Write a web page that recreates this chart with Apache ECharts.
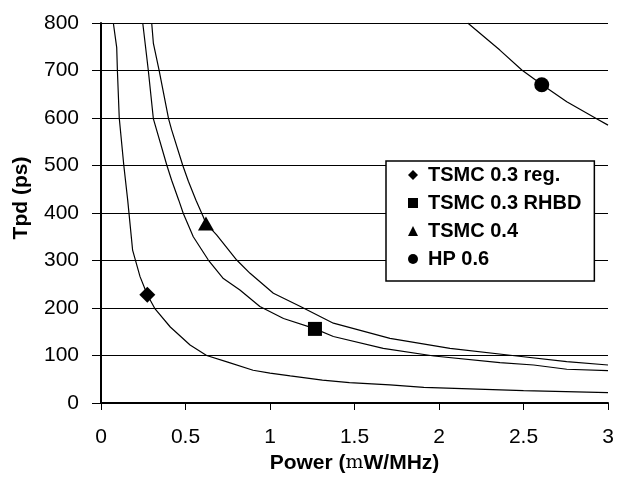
<!DOCTYPE html>
<html lang="en">
<head>
    <meta charset="UTF-8">
    <title>Tpd vs Power</title>
    <script src="https://cdn.jsdelivr.net/npm/echarts@6/dist/echarts.min.js"></script>
    <style>
        body {
            margin: 0;
            background: #fff;
        }
        #main {
            width: 623px;
            height: 481px;
        }
    </style>
</head>
<body>
    <div id="main"></div>
    <script>
        // curves: [power, tpd]
        var tsmc03reg = [[0.073, 800], [0.093, 748], [0.097, 700], [0.108, 600], [0.135, 500], [0.158, 427],
            [0.187, 322], [0.231, 266], [0.274, 228], [0.32, 198], [0.41, 160], [0.527, 122], [0.625, 100],
            [0.75, 86], [0.9, 69], [1.0, 63], [1.12, 57], [1.31, 48], [1.47, 43], [1.71, 38], [1.91, 33],
            [2.5, 26], [3.0, 22]];
        var tsmc03rhbd = [[0.247, 800], [0.28, 700], [0.31, 598], [0.39, 500], [0.418, 469], [0.46, 427],
            [0.487, 399], [0.546, 350], [0.635, 301], [0.724, 262], [0.822, 238], [0.94, 203], [1.08, 178],
            [1.26, 157], [1.375, 140], [1.67, 115], [1.97, 99], [2.36, 85], [2.56, 80], [2.756, 71], [3.0, 68]];
        var tsmc04 = [[0.30, 800], [0.31, 757], [0.343, 702], [0.40, 598], [0.418, 575], [0.483, 501],
            [0.517, 467], [0.562, 427], [0.605, 392], [0.621, 378], [0.684, 354], [0.803, 301], [0.882, 273],
            [1.02, 231], [1.18, 203], [1.375, 168], [1.71, 136], [2.065, 115], [2.46, 99], [2.756, 87], [3.0, 80]];
        var hp06 = [[2.17, 800], [2.36, 743], [2.49, 701], [2.61, 670], [2.756, 634], [2.93, 599], [3.0, 585]];

        // one marked point per process
        var seriesNames = ['TSMC 0.3 reg.', 'TSMC 0.3 RHBD', 'TSMC 0.4', 'HP 0.6'];
        var markPoints = [[0.274, 228], [1.266, 156], [0.621, 378], [2.608, 670]];
        var markSymbols = ['diamond', 'rect', 'triangle', 'circle'];
        var markSizes = [[16, 16], [14, 14], [16, 14], [15, 15]];

        var xTicks = [0, 3, 0.5];     // min, max, interval
        var yTicks = [0, 800, 100];

        var fontName = 'Liberation Sans, Arial, sans-serif';
        var curves = [tsmc03reg, tsmc03rhbd, tsmc04, hp06];

        var series = [];
        for (var i = 0; i < curves.length; i++) {
            series.push({
                name: 'curve' + i,
                type: 'line',
                data: curves[i],
                showSymbol: false,
                symbol: 'none',
                silent: true,
                lineStyle: { color: '#000', width: 1.2 },
                z: 2
            });
        }
        for (var j = 0; j < seriesNames.length; j++) {
            series.push({
                name: seriesNames[j],
                type: 'scatter',
                data: [markPoints[j]],
                symbol: markSymbols[j],
                symbolSize: markSizes[j],
                itemStyle: { color: '#000', opacity: 1 },
                z: 3
            });
        }

        var chart = echarts.init(document.getElementById('main'));
        var option = {
            animation: false,
            backgroundColor: '#fff',
            grid: { left: 101, right: 15, top: 23, bottom: 78, containLabel: false },
            legend: {
                data: seriesNames,
                orient: 'vertical',
                left: 386,
                top: 161,
                itemWidth: 10,
                itemHeight: 10,
                itemGap: 8,
                padding: [4, 13, 12, 22],
                backgroundColor: '#fff',
                borderColor: '#000',
                borderWidth: 1.5,
                borderRadius: 0,
                selectedMode: false,
                itemStyle: { opacity: 1 },
                textStyle: {
                    fontFamily: fontName, fontSize: 20, fontWeight: 'bold', color: '#000',
                    padding: [0, 0, 0, 5]
                }
            },
            xAxis: {
                type: 'value',
                min: xTicks[0],
                max: xTicks[1],
                interval: xTicks[2],
                name: '{a|Power (}{m|m}{a|W/MHz)}',
                nameLocation: 'middle',
                nameGap: 50,
                nameTextStyle: {
                    rich: {
                        a: { fontFamily: fontName, fontSize: 21, fontWeight: 'bold', color: '#000' },
                        m: { fontFamily: 'DejaVu Serif, serif', fontSize: 19, fontWeight: 'normal', color: '#000' }
                    }
                },
                axisLine: { onZero: false, lineStyle: { color: '#000', width: 2 } },
                axisTick: { show: true, inside: false, length: 7, lineStyle: { color: '#000', width: 1 } },
                axisLabel: { fontFamily: fontName, fontSize: 21, color: '#000', margin: 24 },
                splitLine: { show: false }
            },
            yAxis: {
                type: 'value',
                min: yTicks[0],
                max: yTicks[1],
                interval: yTicks[2],
                name: 'Tpd (ps)',
                nameLocation: 'middle',
                nameGap: 69,
                nameTextStyle: {
                    fontFamily: fontName, fontSize: 21, fontWeight: 'bold', color: '#000',
                    padding: [0, 0, 0, 30]
                },
                axisLine: { show: true, lineStyle: { color: '#000', width: 2 } },
                axisTick: { show: true, inside: false, length: 9, lineStyle: { color: '#000', width: 1 } },
                axisLabel: { fontFamily: fontName, fontSize: 21, color: '#000', margin: 22 },
                splitLine: { show: true, lineStyle: { color: '#000', width: 1 } }
            },
            series: series
        };
        chart.setOption(option);
    </script>
</body>
</html>
